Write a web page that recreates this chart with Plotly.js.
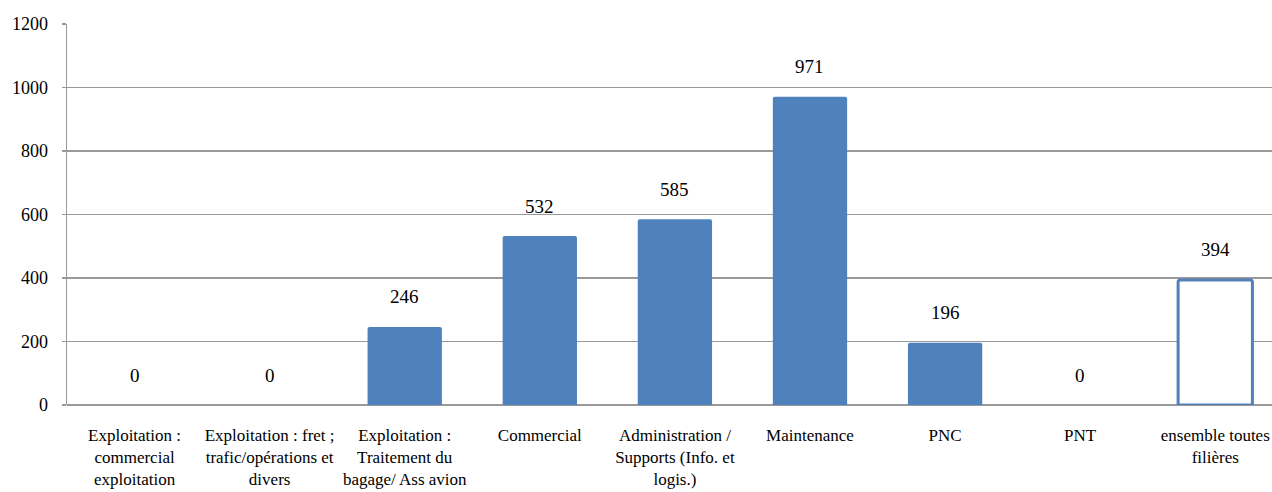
<!DOCTYPE html>
<html>
<head>
<meta charset="utf-8">
<script src="https://cdn.plot.ly/plotly-3.0.1.min.js"></script>
<style>html,body{margin:0;padding:0;background:#fff;overflow:hidden}#chart{width:1272px;height:492px}</style>
</head>
<body>
<div id="chart"></div>
<script>
const categories = [
  "Exploitation :<br>commercial<br>exploitation",
  "Exploitation : fret ;<br>trafic/opérations et<br>divers",
  "Exploitation :<br>Traitement du<br>bagage/ Ass avion",
  "Commercial",
  "Administration /<br>Supports (Info. et<br>logis.)",
  "Maintenance",
  "PNC",
  "PNT",
  "ensemble toutes<br>filières"
];
const values = [0, 0, 246, 532, 585, 971, 196, 0, 394];
const isTotal = [false, false, false, false, false, false, false, false, true];
const yTicks = [0, 200, 400, 600, 800, 1000, 1200];

const blue = "#4F81BD";
const fontFam = "Liberation Serif, Times New Roman, serif";

const trace = {
  type: "bar",
  x: categories,
  y: values,
  marker: {
    color: isTotal.map(t => t ? "#ffffff" : blue),
    line: { color: blue, width: isTotal.map(t => t ? 3 : 0) }
  },
  hoverinfo: "x+y"
};

const annotations = categories.map((c, i) => ({
  x: c, y: values[i], xref: "x", yref: "y",
  text: String(values[i]), showarrow: false,
  yanchor: "middle", yshift: 30,
  font: { family: fontFam, size: 19, color: "#000" }
}));

const layout = {
  width: 1272, height: 492,
  margin: { l: 67, r: 0, t: 24, b: 87 },
  paper_bgcolor: "#fff", plot_bgcolor: "#fff",
  bargap: 0.45,
  barcornerradius: 2,
  showlegend: false,
  font: { family: fontFam, color: "#000" },
  xaxis: {
    type: "category",
    range: [-0.5, 8.42],
    showgrid: false,
    showline: false,
    ticks: "",
    ticklabelstandoff: 18,
    tickfont: { family: fontFam, size: 17, color: "#000" },
    tickangle: 0,
    automargin: false
  },
  yaxis: {
    range: [0, 1200],
    tickvals: yTicks,
    ticktext: yTicks.map(String),
    showgrid: true,
    gridcolor: "#999999",
    gridwidth: 1.5,
    zeroline: true,
    zerolinecolor: "#999999",
    zerolinewidth: 1.5,
    showline: true,
    linecolor: "#999999",
    linewidth: 1.5,
    ticks: "outside",
    ticklen: 4,
    tickcolor: "#999999",
    tickwidth: 1.5,
    ticklabelstandoff: 10,
    tickfont: { family: fontFam, size: 18, color: "#000" },
    automargin: false
  },
  annotations: annotations
};

Plotly.newPlot("chart", [trace], layout, { displayModeBar: false, staticPlot: true });
</script>
</body>
</html>
